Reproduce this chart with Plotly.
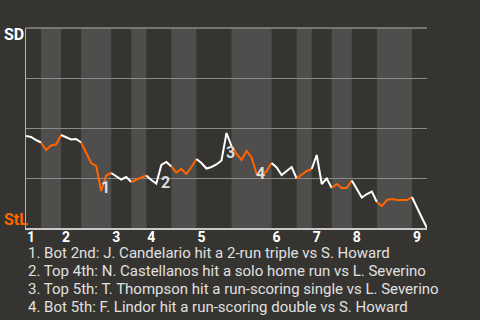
import plotly.graph_objects as go

# Win probability for SD (1 = SD wins, 0 = StL wins) after each plate appearance
sd_win_prob = [
    0.46, 0.455, 0.44, 0.4275, 0.39, 0.4125, 0.4175, 0.465, 0.455, 0.4425,
    0.445, 0.4275, 0.375, 0.325, 0.31, 0.185, 0.2625, 0.275, 0.2575, 0.2425,
    0.255, 0.23, 0.2425, 0.2525, 0.2625, 0.24, 0.2225, 0.315, 0.33, 0.3075,
    0.2775, 0.295, 0.27, 0.305, 0.345, 0.325, 0.2975, 0.305, 0.3175, 0.3375,
    0.475, 0.41, 0.37, 0.34, 0.385, 0.3525, 0.27, 0.26, 0.285, 0.325,
    0.3025, 0.265, 0.285, 0.305, 0.2475, 0.265, 0.285, 0.295, 0.365, 0.22,
    0.2475, 0.20, 0.22, 0.20, 0.20, 0.2375, 0.1975, 0.1525, 0.17, 0.1825,
    0.13, 0.11, 0.14, 0.145, 0.14, 0.14, 0.14, 0.155, 0.10, 0.05, 0.0,
]
# Plate-appearance index where each half inning starts (last = end of game)
half_inning_bounds = [0, 3, 7, 11, 17, 21, 24, 29, 34, 41, 49, 54, 57, 61, 65, 70, 77, 80]
inning_labels = ["1", "2", "3", "4", "5", "6", "7", "8", "9"]
event_index = [15, 27, 40, 46]
event_marks = ["1", "2", "3", "4"]
event_texts = [
    "1. Bot 2nd: J. Candelario hit a 2-run triple vs S. Howard",
    "2. Top 4th: N. Castellanos hit a solo home run vs L. Severino",
    "3. Top 5th: T. Thompson hit a run-scoring single vs L. Severino",
    "4. Bot 5th: F. Lindor hit a run-scoring double vs S. Howard",
]
team_top = "SD"
team_bottom = "StL"

BG = "#363430"
BAND = "#4f4e4c"
ORANGE = "#ff6600"
WHITE = "#ffffff"
GRID = "#8a8a88"
FONT = "Roboto"

fig = go.Figure()

shapes = []
n_half = len(half_inning_bounds) - 1
for h in range(n_half):
    s, e = half_inning_bounds[h], half_inning_bounds[h + 1]
    if h % 2 == 1:
        shapes.append(dict(type="rect", xref="x", yref="paper", x0=s, x1=e, y0=0, y1=1,
                           fillcolor=BAND, line_width=0, layer="below"))
    fig.add_trace(go.Scatter(
        x=list(range(s, e + 1)), y=sd_win_prob[s:e + 1], mode="lines",
        line=dict(color=WHITE if h % 2 == 0 else ORANGE, width=2),
        hoverinfo="skip", showlegend=False))

# top grid line (range edge)
shapes.append(dict(type="line", xref="paper", yref="paper", x0=0, x1=1, y0=1, y1=1,
                   line=dict(color=GRID, width=1.5), layer="below"))

annotations = []
yshifts = [4, -17, -19, 1]
for idx, mark, ys in zip(event_index, event_marks, yshifts):
    annotations.append(dict(x=idx, y=sd_win_prob[idx], xref="x", yref="y", text=mark,
                            showarrow=False, xshift=4, yshift=ys,
                            font=dict(family=FONT, size=16, color="#dddddd", weight="bold")))

annotations.append(dict(x=-26 / 401 + 0.004, y=1, xref="paper", yref="paper", text=team_top,
                        showarrow=False, xanchor="left", yanchor="middle", yshift=-6,
                        font=dict(family=FONT, size=16, color=WHITE, weight="bold")))
annotations.append(dict(x=-26 / 401 + 0.004, y=0, xref="paper", yref="paper", text=team_bottom,
                        showarrow=False, xanchor="left", yanchor="middle", yshift=9,
                        font=dict(family=FONT, size=16, color=ORANGE, weight="bold")))
for k, line in enumerate(event_texts):
    annotations.append(dict(x=0.0, y=-0.125 - 0.09 * k, xref="paper", yref="paper",
                            text=line, align="left", showarrow=False,
                            xanchor="left", yanchor="middle",
                            font=dict(family=FONT, size=15, color="#e0e0e0")))

inning_starts = [half_inning_bounds[i] for i in range(0, n_half, 2)]

fig.update_layout(
    width=480, height=320,
    margin=dict(l=26, r=53, t=28, b=92),
    paper_bgcolor=BG, plot_bgcolor=BG,
    shapes=shapes, annotations=annotations,
    xaxis=dict(range=[0, half_inning_bounds[-1]], tickvals=inning_starts, ticktext=inning_labels,
               ticklabelshift=5, ticklabelstandoff=-5, showgrid=False, zeroline=False,
               showline=True, linecolor="#c8c8c8", linewidth=2, ticks="",
               tickfont=dict(family=FONT, size=14, color=WHITE, weight="bold"),
               fixedrange=True),
    yaxis=dict(range=[0, 1], tickvals=[0.25, 0.5, 0.75, 1.0], showticklabels=False,
               showgrid=True, gridcolor=GRID, gridwidth=1, zeroline=False,
               showline=True, linecolor="#b4b4b4", linewidth=1, ticks="",
               fixedrange=True),
)

fig.write_html("out.html", config={"displayModeBar": False})
